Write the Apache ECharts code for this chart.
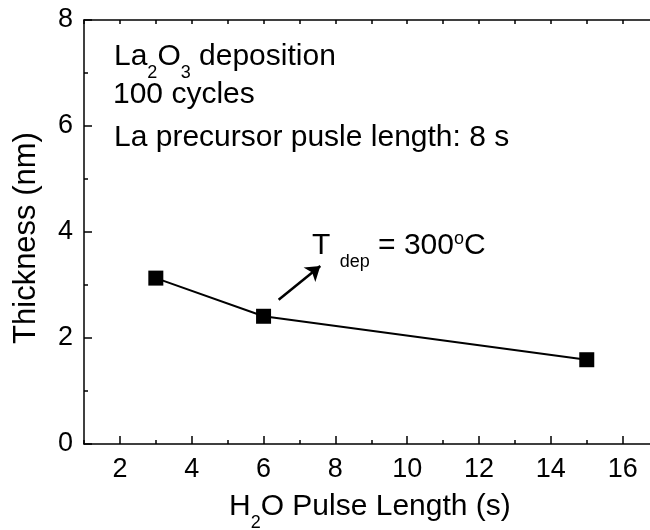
<!DOCTYPE html>
<html>
<head>
<meta charset="utf-8">
<script src="https://cdn.jsdelivr.net/npm/echarts@6/dist/echarts.min.js"></script>
<style>
  html, body { margin: 0; padding: 0; background: #fff; }
  #chart { width: 650px; height: 530px; }
</style>
</head>
<body>
<div id="chart"></div>
<script>
// Film thickness versus water pulse length
const pulseLength = [3, 6, 15];
const thickness = [3.13, 2.41, 1.59];

// Axis tick values
const xTickLabels = [2, 4, 6, 8, 10, 12, 14, 16, 18];
const xMinorTicks = [1, 3, 5, 7, 9, 11, 13, 15, 17];
const yTickLabels = [0, 2, 4, 6, 8];

// Arrow pointing at the deposition temperature note (data space)
const arrowFrom = [6.42, 2.72];
const arrowTo = [7.58, 3.36];

const FONT = "'Liberation Sans', Arial, sans-serif";
const measureCtx = document.createElement('canvas').getContext('2d');
function textWidth(t, size) {
  measureCtx.font = size + 'px ' + FONT;
  return measureCtx.measureText(t).width;
}

// Lays out a run of text pieces (with sub/superscripts) along one baseline
function textRun(x, baseline, pieces) {
  const els = [];
  let cx = x;
  pieces.forEach(function (p) {
    const b = baseline + (p.dy || 0);
    els.push({
      type: 'text',
      x: cx,
      y: b - 0.3465 * p.size,
      silent: true,
      style: {
        text: p.t, fontSize: p.size, fontFamily: FONT, fill: '#000',
        align: 'left', verticalAlign: 'middle',
        textAlign: 'left', textVerticalAlign: 'middle'
      }
    });
    cx += textWidth(p.t, p.size) + (p.gap || 0);
  });
  return els;
}

const BIG = 30, SMALL = 18;
const graphics = [].concat(
  textRun(114, 67, [
    { t: 'La', size: BIG },
    { t: '2', size: SMALL, dy: 12 },
    { t: 'O', size: BIG },
    { t: '3', size: SMALL, dy: 12 },
    { t: ' deposition', size: BIG }
  ]),
  textRun(113, 105, [{ t: '100 cycles', size: BIG }]),
  textRun(114, 148, [{ t: 'La precursor pusle length: 8 s', size: BIG }]),
  textRun(312, 256, [
    { t: 'T ', size: BIG, gap: 1 },
    { t: 'dep', size: SMALL, dy: 12 },
    { t: ' = 300', size: BIG },
    { t: 'o', size: SMALL, dy: -11 },
    { t: 'C', size: BIG }
  ]),
  textRun(229, 517, [
    { t: 'H', size: BIG },
    { t: '2', size: SMALL, dy: 12 },
    { t: 'O Pulse Length (s)', size: BIG }
  ]),
  [{
    type: 'text',
    x: 26, y: 238,
    rotation: Math.PI / 2,
    silent: true,
    style: {
      text: 'Thickness (nm)', fontSize: 31, fontFamily: FONT, fill: '#000',
      align: 'center', verticalAlign: 'middle',
      textAlign: 'center', textVerticalAlign: 'middle'
    }
  }]
);

const axisLine = { show: true, onZero: false, lineStyle: { color: '#000', width: 1.5 } };
const tickLabel = { color: '#000', fontSize: 27, fontFamily: FONT };

const chart = echarts.init(document.getElementById('chart'), null, { renderer: 'canvas' });
chart.setOption({
  animation: false,
  backgroundColor: '#fff',
  grid: {
    left: 84, top: 20, right: -44.5, bottom: 86,
    containLabel: false, outerBoundsMode: 'none'
  },
  xAxis: [
    {
      type: 'value', position: 'bottom', min: 1, max: 18,
      axisLine: axisLine,
      axisTick: { show: true, inside: true, length: 8, customValues: xTickLabels, lineStyle: { color: '#000', width: 1.5 } },
      axisLabel: Object.assign({ margin: 12, customValues: xTickLabels.filter(v => v <= 16) }, tickLabel),
      splitLine: { show: false }
    },
    {
      type: 'value', position: 'bottom', min: 1, max: 18,
      axisLine: { show: false },
      axisTick: { show: true, inside: true, length: 4, customValues: xMinorTicks, lineStyle: { color: '#000', width: 1.5 } },
      axisLabel: { show: false },
      splitLine: { show: false }
    },
    {
      type: 'value', position: 'top', min: 1, max: 18, interval: 1,
      axisLine: axisLine,
      axisTick: { show: true, inside: true, length: 4, lineStyle: { color: '#000', width: 1.5 } },
      axisLabel: { show: false },
      splitLine: { show: false }
    }
  ],
  yAxis: [
    {
      type: 'value', position: 'left', min: 0, max: 8, interval: 2,
      axisLine: axisLine,
      axisTick: { show: true, inside: true, length: 8, lineStyle: { color: '#000', width: 1.5 } },
      minorTick: { show: true, splitNumber: 2, length: 4, lineStyle: { color: '#000', width: 1.5 } },
      axisLabel: Object.assign({ margin: 11, customValues: yTickLabels }, tickLabel),
      splitLine: { show: false },
      minorSplitLine: { show: false }
    }
  ],
  series: [
    {
      type: 'line',
      xAxisIndex: 0,
      yAxisIndex: 0,
      data: pulseLength.map((x, i) => [x, thickness[i]]),
      symbol: 'rect',
      symbolSize: 15,
      itemStyle: { color: '#000' },
      lineStyle: { color: '#000', width: 2 },
      z: 3,
      markLine: {
        silent: true,
        symbol: ['none', 'arrow'],
        symbolSize: 14,
        label: { show: false },
        itemStyle: { color: '#000' },
        lineStyle: { color: '#000', width: 2.5, type: 'solid' },
        data: [[{ coord: arrowFrom }, { coord: arrowTo }]]
      }
    }
  ],
  graphic: { elements: graphics }
});
</script>
</body>
</html>
